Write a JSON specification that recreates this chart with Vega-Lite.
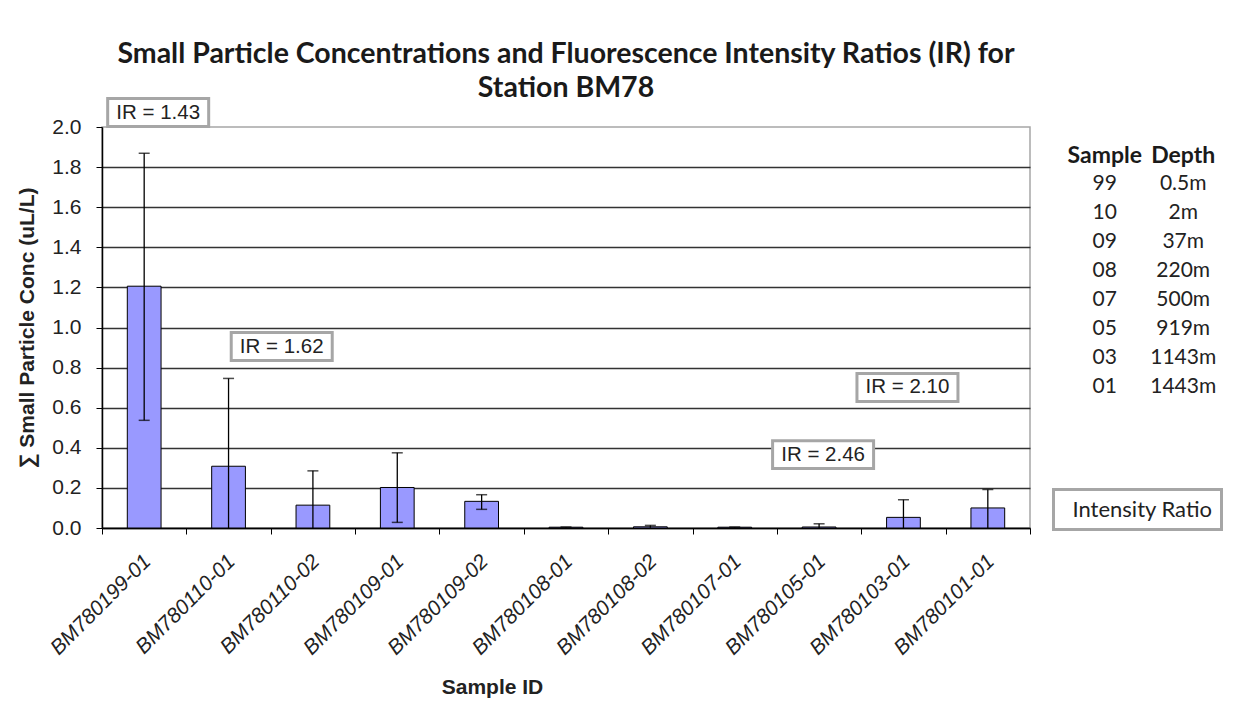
{
  "$schema": "https://vega.github.io/schema/vega-lite/v6.json",
  "background": "white",
  "padding": {"left": 16, "top": 39, "right": 5, "bottom": 5},
  "spacing": 10,
  "config": {
    "font": "Liberation Sans",
    "view": {"stroke": null},
    "legend": {
      "strokeColor": "#a6a6a6",
      "strokeWidth": 3,
      "fillColor": "white",
      "padding": 9,
      "symbolOpacity": 0,
      "symbolSize": 0,
      "labelOffset": -12,
      "labelFont": "Lato",
      "labelFontSize": 22,
      "labelColor": "#222"
    }
  },
  "hconcat": [
    {
      "width": 928,
      "height": 401,
      "title": {
        "text": ["Small Particle Concentrations and Fluorescence Intensity Ratios (IR) for", "Station BM78"],
        "font": "Lato",
        "fontSize": 28.5,
        "fontWeight": "bold",
        "color": "#1a1a1a",
        "anchor": "middle",
        "frame": "group",
        "lineHeight": 34,
        "offset": -10
      },
      "view": {"stroke": "#a6a6a6", "strokeWidth": 1.5},
      "data": {
        "values": [
          {"sample": "BM780199-01", "conc": 1.206, "lo": 0.537, "hi": 1.869},
          {"sample": "BM780110-01", "conc": 0.308, "lo": 0, "hi": 0.746},
          {"sample": "BM780110-02", "conc": 0.114, "lo": 0, "hi": 0.285},
          {"sample": "BM780109-01", "conc": 0.202, "lo": 0.028, "hi": 0.375},
          {"sample": "BM780109-02", "conc": 0.133, "lo": 0.093, "hi": 0.166},
          {"sample": "BM780108-01", "conc": 0.004, "lo": 0.003, "hi": 0.005},
          {"sample": "BM780108-02", "conc": 0.006, "lo": 0.001, "hi": 0.013},
          {"sample": "BM780107-01", "conc": 0.004, "lo": 0.003, "hi": 0.005},
          {"sample": "BM780105-01", "conc": 0.005, "lo": 0, "hi": 0.021},
          {"sample": "BM780103-01", "conc": 0.053, "lo": 0, "hi": 0.141},
          {"sample": "BM780101-01", "conc": 0.1, "lo": 0, "hi": 0.192}
        ]
      },
      "encoding": {
        "x": {
          "field": "sample",
          "type": "nominal",
          "sort": null,
          "title": "Sample ID",
          "scale": {"paddingInner": 0, "paddingOuter": 0},
          "axis": {
            "tickBand": "extent",
            "labelAngle": -45,
            "labelAlign": "right",
            "labelBaseline": "middle",
            "labelFontStyle": "italic",
            "labelFontSize": 21,
            "labelColor": "#222",
            "labelPadding": 24,
            "labelOffset": 3,
            "tickColor": "#000",
            "tickSize": 6,
            "domainColor": "#000",
            "domainWidth": 1.5,
            "titleFontSize": 21,
            "titleFontWeight": "bold",
            "titleColor": "#222",
            "titleX": 390,
            "titleY": 148,
            "titleBaseline": "top"
          }
        }
      },
      "layer": [
        {
          "mark": {"type": "bar", "fill": "#9999ff", "stroke": "#000", "strokeWidth": 1, "width": {"band": 0.4}},
          "encoding": {
            "y": {
              "field": "conc",
              "type": "quantitative",
              "title": "∑ Small Particle Conc  (uL/L)",
              "scale": {"domain": [0, 2], "nice": false},
              "axis": {
                "values": [0, 0.2, 0.4, 0.6, 0.8, 1.0, 1.2, 1.4, 1.6, 1.8, 2.0],
                "format": ".1f",
                "labelFontSize": 21,
                "labelColor": "#222",
                "labelPadding": 15,
                "tickColor": "#000",
                "tickSize": 6,
                "domainColor": "#000",
                "domainWidth": 1.5,
                "grid": true,
                "gridColor": {"condition": {"test": "datum.value >= 2", "value": "transparent"}, "value": "#333333"},
                "gridWidth": 1.6,
                "titleFontSize": 21,
                "titleFontWeight": "bold",
                "titleColor": "#222",
                "titlePadding": 14
              }
            }
          }
        },
        {
          "mark": {"type": "rule", "color": "#000", "strokeWidth": 1.3},
          "encoding": {
            "y": {"field": "lo", "type": "quantitative"},
            "y2": {"field": "hi"}
          }
        },
        {
          "mark": {"type": "tick", "color": "#000", "size": 11, "thickness": 1.5},
          "encoding": {"y": {"field": "hi", "type": "quantitative"}}
        },
        {
          "transform": [{"filter": "datum.lo > 0.01"}],
          "mark": {"type": "tick", "color": "#000", "size": 11, "thickness": 1.5},
          "encoding": {"y": {"field": "lo", "type": "quantitative"}}
        },
        {
          "data": {"values": [{"sample": "BM780199-01", "ir": 2.072, "label": "IR = 1.43"}]},
          "layer": [
            {
              "mark": {"type": "point", "shape": "M-1,-0.277L1,-0.277L1,0.277L-1,0.277Z", "size": 10201, "fill": "white", "filled": false, "strokeWidth": 3, "opacity": 1, "clip": false, "xOffset": 14},
              "encoding": {
                "y": {"field": "ir", "type": "quantitative"},
                "stroke": {"datum": "Intensity Ratio", "type": "nominal", "scale": {"range": ["#a6a6a6"]}, "legend": {"title": null, "orient": "none", "legendX": 951.5, "legendY": 362.5}}
              }
            },
            {
              "mark": {"type": "text", "fontSize": 20.5, "color": "#222", "clip": false, "xOffset": 14},
              "encoding": {"y": {"field": "ir", "type": "quantitative"}, "text": {"field": "label"}}
            }
          ]
        },
        {
          "data": {"values": [{"sample": "BM780105-01", "ir": 0.366, "label": "IR = 2.46"}, {"sample": "BM780103-01", "ir": 0.701, "label": "IR = 2.10"}]},
          "layer": [
            {
              "mark": {"type": "point", "shape": "M-1,-0.277L1,-0.277L1,0.277L-1,0.277Z", "size": 10201, "fill": "white", "filled": false, "strokeWidth": 3, "opacity": 1, "xOffset": 4},
              "encoding": {
                "y": {"field": "ir", "type": "quantitative"},
                "stroke": {"datum": "Intensity Ratio", "type": "nominal"}
              }
            },
            {
              "mark": {"type": "text", "fontSize": 20.5, "color": "#222", "xOffset": 4},
              "encoding": {"y": {"field": "ir", "type": "quantitative"}, "text": {"field": "label"}}
            }
          ]
        },
        {
          "data": {"values": [{"sample": "BM780110-02", "ir": 0.905, "label": "IR = 1.62"}]},
          "layer": [
            {
              "mark": {"type": "point", "shape": "M-1,-0.277L1,-0.277L1,0.277L-1,0.277Z", "size": 10201, "fill": "white", "filled": false, "strokeWidth": 3, "opacity": 1, "xOffset": 11},
              "encoding": {
                "x": {"field": "sample", "type": "nominal", "sort": null, "bandPosition": 0},
                "y": {"field": "ir", "type": "quantitative"},
                "stroke": {"datum": "Intensity Ratio", "type": "nominal"}
              }
            },
            {
              "mark": {"type": "text", "fontSize": 20.5, "color": "#222", "xOffset": 11},
              "encoding": {
                "x": {"field": "sample", "type": "nominal", "sort": null, "bandPosition": 0},
                "y": {"field": "ir", "type": "quantitative"},
                "text": {"field": "label"}
              }
            }
          ]
        }
      ]
    },
    {
      "width": 204,
      "height": 289.4,
      "view": {"stroke": null},
      "data": {
        "values": [
          {"Sample": "99", "Depth": "0.5m"},
          {"Sample": "10", "Depth": "2m"},
          {"Sample": "09", "Depth": "37m"},
          {"Sample": "08", "Depth": "220m"},
          {"Sample": "07", "Depth": "500m"},
          {"Sample": "05", "Depth": "919m"},
          {"Sample": "03", "Depth": "1143m"},
          {"Sample": "01", "Depth": "1443m"}
        ]
      },
      "encoding": {
        "y": {
          "field": "Sample",
          "type": "ordinal",
          "scale": {"type": "point", "domain": ["Sample", "99", "10", "09", "08", "07", "05", "03", "01"], "padding": 1, "align": 0.4925},
          "axis": null
        }
      },
      "layer": [
        {
          "data": {"values": [{"Sample": "Sample", "Depth": "Depth"}]},
          "mark": {"type": "text", "font": "Lato", "fontSize": 23, "fontWeight": "bold", "color": "#1a1a1a"},
          "encoding": {
            "x": {"datum": "Sample", "type": "nominal", "scale": {"type": "point", "domain": ["Sample", "Depth"], "padding": 0.8}, "axis": null},
            "text": {"field": "Sample"}
          }
        },
        {
          "data": {"values": [{"Sample": "Sample", "Depth": "Depth"}]},
          "mark": {"type": "text", "font": "Lato", "fontSize": 23, "fontWeight": "bold", "color": "#1a1a1a"},
          "encoding": {
            "x": {"datum": "Depth", "type": "nominal"},
            "text": {"field": "Depth"}
          }
        },
        {
          "mark": {"type": "text", "font": "Lato", "fontSize": 21, "color": "#222"},
          "encoding": {
            "x": {"datum": "Sample", "type": "nominal"},
            "text": {"field": "Sample"}
          }
        },
        {
          "mark": {"type": "text", "font": "Lato", "fontSize": 21, "color": "#222"},
          "encoding": {
            "x": {"datum": "Depth", "type": "nominal"},
            "text": {"field": "Depth"}
          }
        }
      ]
    }
  ]
}
